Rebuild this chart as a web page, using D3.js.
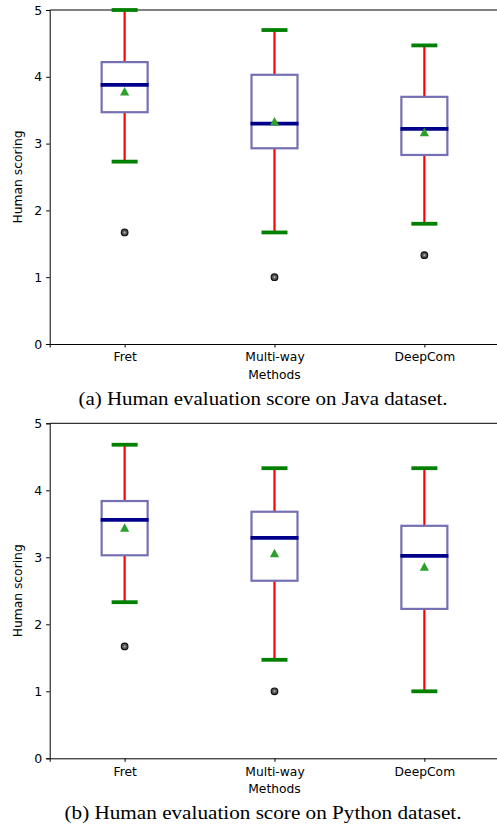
<!DOCTYPE html>
<html>
<head>
<meta charset="utf-8">
<script src="https://cdn.jsdelivr.net/npm/d3@7"></script>
<style>
  body { margin: 0; background: #fff; }
  text { font-family: "DejaVu Sans", sans-serif; }
</style>
</head>
<body>
<div id="chart"></div>
<script>
// categories
var methods = ["Fret", "Multi-way", "DeepCom"];
var yTicks = [0, 1, 2, 3, 4, 5];

// Java dataset: whisker low, q1, median, q3, whisker high, mean, outliers
var javaLow = [2.73, 1.67, 1.80];
var javaQ1 = [3.47, 2.93, 2.83];
var javaMedian = [3.88, 3.30, 3.22];
var javaQ3 = [4.22, 4.03, 3.70];
var javaHigh = [5.00, 4.70, 4.47];
var javaMean = [3.78, 3.33, 3.17];
var javaOutliers = [[1.67], [1.00], [1.33]];

// Python dataset
var pyLow = [2.33, 1.47, 1.00];
var pyQ1 = [3.03, 2.65, 2.23];
var pyMedian = [3.56, 3.29, 3.02];
var pyQ3 = [3.84, 3.68, 3.47];
var pyHigh = [4.68, 4.33, 4.33];
var pyMean = [3.44, 3.06, 2.86];
var pyOutliers = [[1.67], [1.00], []];

var width = 497, height = 829;

var svg = d3.select("#chart")
  .append("svg")
  .attr("width", width)
  .attr("height", height);

function drawPanel(top, bottom, low, q1, med, q3, high, mean, outliers, caption) {
  var g = svg.append("g");

  var x = d3.scaleLinear().domain([0.5, 3.5]).range([49.7, 499.3]);
  var y = d3.scaleLinear().domain([0, 5]).range([bottom, top]);

  // top spine
  g.append("line").attr("x1", x(0.5)).attr("x2", x(3.5)).attr("y1", y(5)).attr("y2", y(5))
    .attr("stroke", "black").attr("stroke-width", 1);

  var yAxis = g.append("g")
    .attr("transform", "translate(" + x(0.5) + ",0)")
    .call(d3.axisLeft(y).tickValues(yTicks).tickFormat(d3.format("d")).tickSizeOuter(0).tickSize(3.5).tickPadding(4));
  yAxis.selectAll("text").attr("font-size", "12.5px").attr("font-family", "DejaVu Sans");

  var xAxis = g.append("g")
    .attr("transform", "translate(0," + y(0) + ")")
    .call(d3.axisBottom(x).tickValues([1, 2, 3]).tickFormat(function(d) { return methods[d - 1]; })
      .tickSizeOuter(0).tickSize(3.5).tickPadding(5));
  xAxis.selectAll("text").attr("font-size", "12.3px").attr("font-family", "DejaVu Sans");
  g.selectAll(".domain").attr("stroke", "black");

  g.append("text")
    .attr("x", x(2)).attr("y", y(0) + 35)
    .attr("text-anchor", "middle").attr("font-size", "12.3px")
    .text("Methods");

  g.append("text")
    .attr("transform", "translate(22," + ((top + bottom) / 2) + ") rotate(-90)")
    .attr("text-anchor", "middle").attr("font-size", "12.3px")
    .text("Human scoring");

  var boxW = 46, capW = 26;
  var idx = d3.range(methods.length);

  // whiskers
  g.selectAll(".whiskLo").data(idx).enter().append("line")
    .attr("x1", function(i) { return x(i + 1); }).attr("x2", function(i) { return x(i + 1); })
    .attr("y1", function(i) { return y(q1[i]); }).attr("y2", function(i) { return y(low[i]); })
    .attr("stroke", "#ff0000").attr("stroke-width", 2.2);
  g.selectAll(".whiskHi").data(idx).enter().append("line")
    .attr("x1", function(i) { return x(i + 1); }).attr("x2", function(i) { return x(i + 1); })
    .attr("y1", function(i) { return y(q3[i]); }).attr("y2", function(i) { return y(high[i]); })
    .attr("stroke", "#ff0000").attr("stroke-width", 2.2);

  // caps
  [low, high].forEach(function(arr) {
    g.selectAll(null).data(idx).enter().append("line")
      .attr("x1", function(i) { return x(i + 1) - capW / 2; }).attr("x2", function(i) { return x(i + 1) + capW / 2; })
      .attr("y1", function(i) { return y(arr[i]); }).attr("y2", function(i) { return y(arr[i]); })
      .attr("stroke", "#008000").attr("stroke-width", 3.8);
  });

  // boxes
  g.selectAll(".box").data(idx).enter().append("rect")
    .attr("x", function(i) { return x(i + 1) - boxW / 2; })
    .attr("y", function(i) { return y(q3[i]); })
    .attr("width", boxW)
    .attr("height", function(i) { return y(q1[i]) - y(q3[i]); })
    .attr("fill", "none").attr("stroke", "#7570b3").attr("stroke-width", 2.2);

  // medians
  g.selectAll(".median").data(idx).enter().append("line")
    .attr("x1", function(i) { return x(i + 1) - boxW / 2 - 1; }).attr("x2", function(i) { return x(i + 1) + boxW / 2 + 1; })
    .attr("y1", function(i) { return y(med[i]); }).attr("y2", function(i) { return y(med[i]); })
    .attr("stroke", "#00008b").attr("stroke-width", 3.8);

  // means
  g.selectAll(".mean").data(idx).enter().append("path")
    .attr("d", function(i) {
      var cx = x(i + 1), cy = y(mean[i]);
      return "M" + (cx - 4.6) + "," + (cy + 4) + "L" + (cx + 4.6) + "," + (cy + 4) + "L" + cx + "," + (cy - 4.5) + "Z";
    })
    .attr("fill", "#2ca02c");

  // outliers
  idx.forEach(function(i) {
    outliers[i].forEach(function(v) {
      g.append("circle").attr("cx", x(i + 1)).attr("cy", y(v)).attr("r", 3.3)
        .attr("fill", "#555").attr("stroke", "#111").attr("stroke-width", 1.2);
      g.append("circle").attr("cx", x(i + 1)).attr("cy", y(v)).attr("r", 1)
        .attr("fill", "#bbb");
    });
  });

  svg.append("text")
    .attr("x", 263).attr("y", y(0) + 61)
    .attr("text-anchor", "middle")
    .attr("font-size", "19px")
    .attr("textLength", caption.len).attr("lengthAdjust", "spacingAndGlyphs")
    .style("font-family", "'Liberation Serif', 'Times New Roman', serif")
    .text(caption.text);
}

drawPanel(10, 344, javaLow, javaQ1, javaMedian, javaQ3, javaHigh, javaMean, javaOutliers,
  { text: "(a) Human evaluation score on Java dataset.", len: 369 });
drawPanel(423.3, 758.3, pyLow, pyQ1, pyMedian, pyQ3, pyHigh, pyMean, pyOutliers,
  { text: "(b) Human evaluation score on Python dataset.", len: 397 });
</script>
</body>
</html>
